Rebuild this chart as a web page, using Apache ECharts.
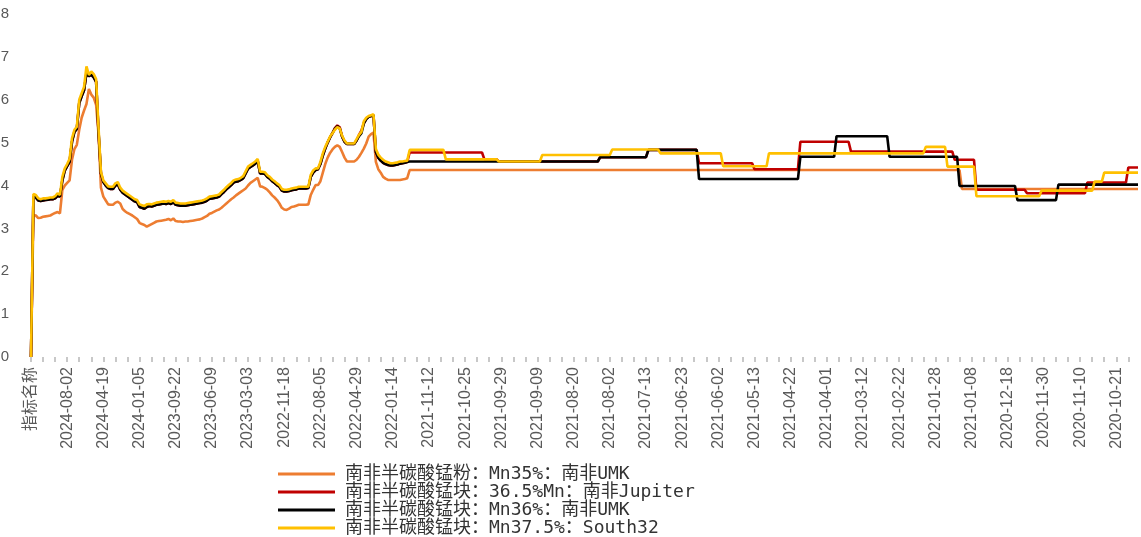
<!DOCTYPE html>
<html>
<head>
<meta charset="utf-8">
<script src="https://cdn.jsdelivr.net/npm/echarts/dist/echarts.min.js"></script>
<style>
html,body{margin:0;padding:0;background:#fff;overflow:hidden;}
#chart{width:1141px;height:537px;}
</style>
</head>
<body>
<div id="chart"></div>
<script>
// Tick labels shown every 15 categories (reverse chronological order, as in the source)
const tickLabels = ['指标名称','2024-08-02','2024-04-19','2024-01-05','2023-09-22','2023-06-09','2023-03-03','2022-11-18','2022-08-05','2022-04-29','2022-01-14','2021-11-12','2021-10-25','2021-09-29','2021-09-09','2021-08-20','2021-08-02','2021-07-13','2021-06-23','2021-06-02','2021-05-13','2021-04-22','2021-04-01','2021-03-12','2021-02-22','2021-01-28','2021-01-08','2020-12-18','2020-11-30','2020-11-10','2020-10-21'];
const labelEvery = 15;
const categoryCount = 460;

const seriesNames = ['南非半碳酸锰粉：Mn35%：南非UMK','南非半碳酸锰块：36.5%Mn：南非Jupiter','南非半碳酸锰块：Mn36%：南非UMK','南非半碳酸锰块：Mn37.5%：South32'];

// Weekly section (indices 0..156)
const umkPowderWeekly = [
0,3.31,3.30,3.24,3.25,3.27,3.28,3.29,3.30,3.33,
3.36,3.38,3.35,3.90,4.00,4.06,4.12,4.60,4.85,4.95,
5.30,5.58,5.75,5.90,6.25,6.12,6.05,5.88,5.20,3.95,
3.74,3.65,3.56,3.55,3.55,3.60,3.62,3.58,3.45,3.40,
3.36,3.33,3.30,3.26,3.22,3.13,3.10,3.08,3.04,3.07,
3.10,3.13,3.16,3.17,3.18,3.19,3.20,3.22,3.19,3.23,
3.17,3.16,3.16,3.15,3.16,3.16,3.17,3.18,3.19,3.20,
3.21,3.23,3.26,3.29,3.34,3.36,3.39,3.42,3.44,3.48,
3.53,3.58,3.63,3.68,3.72,3.77,3.81,3.85,3.89,3.93,
4.00,4.06,4.10,4.14,4.18,3.98,3.97,3.94,3.90,3.84,
3.77,3.72,3.66,3.58,3.48,3.44,3.43,3.46,3.50,3.51,
3.53,3.55,3.55,3.55,3.55,3.56,3.78,3.90,4.01,4.01,
4.10,4.30,4.50,4.65,4.76,4.84,4.90,4.94,4.90,4.78,
4.65,4.56,4.56,4.56,4.56,4.60,4.67,4.76,4.86,4.98,
5.14,5.20,5.23,4.55,4.38,4.30,4.20,4.16,4.13,4.13,
4.13,4.13,4.13,4.13,4.14,4.15,4.17];

const jupiterWeekly = [
0,3.74,3.72,3.65,3.64,3.65,3.66,3.67,3.68,3.68,
3.70,3.76,3.74,4.12,4.35,4.45,4.55,5.02,5.25,5.32,
5.92,6.08,6.22,6.62,6.55,6.58,6.52,6.42,5.25,4.28,
4.08,4.00,3.94,3.92,3.92,4.00,4.03,3.90,3.83,3.79,
3.75,3.71,3.67,3.63,3.61,3.50,3.48,3.46,3.50,3.52,
3.51,3.53,3.55,3.56,3.57,3.58,3.57,3.59,3.57,3.61,
3.55,3.54,3.53,3.53,3.53,3.54,3.55,3.56,3.57,3.58,
3.59,3.60,3.62,3.65,3.69,3.70,3.71,3.72,3.74,3.80,
3.85,3.91,3.96,4.01,4.07,4.09,4.10,4.13,4.17,4.28,
4.39,4.43,4.47,4.51,4.57,4.28,4.28,4.27,4.20,4.16,
4.10,4.06,4.01,3.97,3.88,3.86,3.86,3.87,3.89,3.90,
3.91,3.93,3.93,3.93,3.93,3.94,4.20,4.30,4.36,4.38,
4.50,4.70,4.86,5.00,5.12,5.22,5.34,5.40,5.36,5.14,
5.02,4.97,4.97,4.97,4.97,5.05,5.18,5.28,5.45,5.55,
5.60,5.62,5.64,4.78,4.65,4.58,4.53,4.50,4.48,4.47,
4.47,4.48,4.49,4.51,4.52,4.53,4.55];

const umkLumpWeekly = [
0,3.74,3.72,3.65,3.64,3.65,3.66,3.67,3.68,3.68,
3.70,3.76,3.74,4.12,4.35,4.45,4.55,5.02,5.25,5.32,
5.92,6.08,6.22,6.62,6.55,6.58,6.52,6.42,5.25,4.28,
4.08,4.00,3.94,3.92,3.92,4.00,4.03,3.90,3.83,3.79,
3.75,3.71,3.67,3.63,3.61,3.50,3.48,3.46,3.50,3.52,
3.51,3.53,3.55,3.56,3.57,3.58,3.57,3.59,3.57,3.61,
3.55,3.54,3.53,3.53,3.53,3.54,3.55,3.56,3.57,3.58,
3.59,3.60,3.62,3.65,3.69,3.70,3.71,3.72,3.74,3.80,
3.85,3.91,3.96,4.01,4.07,4.09,4.10,4.13,4.17,4.28,
4.39,4.43,4.47,4.51,4.57,4.28,4.28,4.27,4.20,4.16,
4.10,4.06,4.01,3.97,3.88,3.86,3.86,3.87,3.89,3.90,
3.91,3.93,3.93,3.93,3.93,3.94,4.20,4.30,4.36,4.38,
4.50,4.70,4.86,5.00,5.12,5.22,5.32,5.38,5.33,5.14,
5.02,4.97,4.97,4.97,4.97,5.05,5.15,5.22,5.45,5.55,
5.60,5.62,5.64,4.78,4.65,4.58,4.53,4.50,4.48,4.47,
4.47,4.48,4.49,4.51,4.52,4.53,4.55];

const south32Weekly = [
0,3.80,3.78,3.70,3.68,3.70,3.70,3.71,3.72,3.72,
3.75,3.82,3.78,4.20,4.40,4.50,4.62,5.10,5.30,5.37,
6.00,6.15,6.30,6.78,6.58,6.66,6.60,6.48,5.35,4.32,
4.12,4.05,3.98,3.97,3.97,4.05,4.08,3.95,3.88,3.84,
3.80,3.76,3.72,3.68,3.66,3.56,3.54,3.52,3.56,3.57,
3.56,3.58,3.60,3.61,3.62,3.63,3.62,3.64,3.62,3.66,
3.60,3.59,3.58,3.58,3.58,3.59,3.60,3.61,3.62,3.63,
3.64,3.65,3.67,3.70,3.74,3.75,3.76,3.77,3.79,3.85,
3.90,3.96,4.01,4.06,4.12,4.14,4.15,4.18,4.22,4.33,
4.44,4.48,4.52,4.56,4.62,4.32,4.32,4.31,4.24,4.20,
4.14,4.10,4.05,4.01,3.92,3.90,3.90,3.91,3.93,3.94,
3.95,3.97,3.97,3.97,3.97,3.97,4.25,4.35,4.40,4.40,
4.55,4.75,4.90,5.02,5.14,5.22,5.30,5.36,5.33,5.16,
5.05,4.98,4.98,4.98,4.98,5.08,5.18,5.25,5.50,5.58,
5.62,5.64,5.66,4.85,4.72,4.65,4.60,4.56,4.54,4.52,
4.52,4.53,4.54,4.56,4.56,4.57,4.58];

// Daily section (indices 157..459): flat price runs as [number of days, price]
const umkPowderRuns = [[229,4.36],[74,3.92]];
const jupiterRuns = [[31,4.77],[6,4.61],[42,4.56],[20,4.66],[21,4.83],[23,4.52],[19,4.38],[21,5.02],[43,4.79],[9,4.60],[21,3.90],[25,3.82],[17,4.07],[5,4.42]];
const umkLumpRuns = [[79,4.56],[20,4.66],[21,4.83],[42,4.15],[15,4.67],[22,5.15],[29,4.67],[24,3.99],[17,3.66],[34,4.02]];
const south32Runs = [[15,4.83],[22,4.61],[18,4.56],[29,4.71],[20,4.84],[26,4.75],[19,4.45],[65,4.75],[9,4.90],[12,4.44],[27,3.75],[22,3.88],[4,4.09],[15,4.30]];

const colors = ['#ED7D31','#C00000','#000000','#FFC000'];

function runsToList(runs){
  const out = [];
  runs.forEach(function(r){ for(let k=0;k<r[0];k++) out.push(r[1]); });
  return out;
}
const categories = [];
for(let i=0;i<categoryCount;i++){
  categories.push(i % labelEvery === 0 ? tickLabels[i/labelEvery] : '');
}
const seriesData = [
  umkPowderWeekly.concat(runsToList(umkPowderRuns)),
  jupiterWeekly.concat(runsToList(jupiterRuns)),
  umkLumpWeekly.concat(runsToList(umkLumpRuns)),
  south32Weekly.concat(runsToList(south32Runs))
];

const chart = echarts.init(document.getElementById('chart'), null, {renderer:'canvas'});
chart.setOption({
  animation:false,
  backgroundColor:'#ffffff',
  grid:{left:31,right:3,top:14,bottom:180,containLabel:false,outerBoundsMode:'none'},
  legend:{
    type:'plain', orient:'vertical', left:278, top:465, height:100, padding:0, itemGap:0,
    itemWidth:57, itemHeight:3, icon:'rect',
    data:seriesNames,
    textStyle:{fontFamily:'"DejaVu Sans Mono","Noto Sans CJK SC",sans-serif',fontSize:18,lineHeight:18,color:'#333333',padding:[0,0,0,5]}
  },
  xAxis:{
    type:'category', data:categories, boundaryGap:false,
    axisLine:{show:false},
    axisTick:{show:true,interval:function(i){return i%5===0;},length:5,lineStyle:{color:'#c8c8c8',width:2}},
    axisLabel:{interval:function(i){return i%labelEvery===0;},rotate:90,margin:10,fontFamily:'"Liberation Sans","Noto Sans CJK SC",sans-serif',fontSize:16,color:'#595959'},
    splitLine:{show:false}
  },
  yAxis:{
    type:'value', min:0, max:8, interval:1,
    axisLine:{show:false}, axisTick:{show:false}, splitLine:{show:false},
    axisLabel:{margin:22,fontFamily:'"Liberation Sans",sans-serif',fontSize:15,color:'#595959'}
  },
  series: seriesNames.map(function(name,k){
    return {name:name,type:'line',data:seriesData[k],symbol:'none',showSymbol:false,
      color:colors[k],lineStyle:{color:colors[k],width:2.6},itemStyle:{color:colors[k]},z:2+k};
  })
});
</script>
</body>
</html>
